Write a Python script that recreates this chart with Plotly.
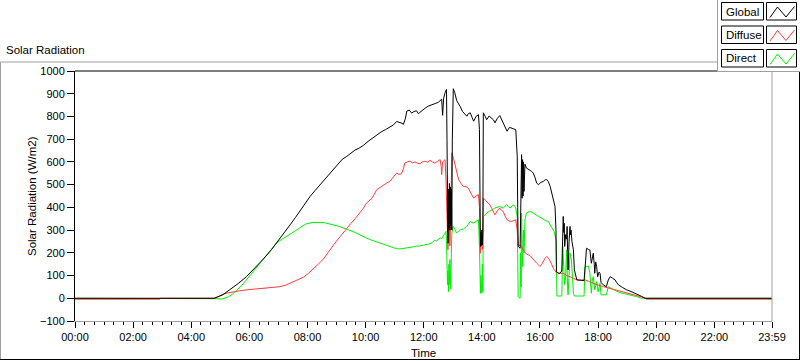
import plotly.graph_objects as go

# ---------------- data (minutes after midnight, W/m2) ----------------
global_minutes = [0,287,305,320,337,354,372,389,406,423,434,444,455,465,475,485,496,506,516,526,536,545,552,561,570,578,586,595,605,614,623,632,641,650,657,664,670,675,678,682,685,690,695,700,705,709,712,718,724,729,733,740,745,750,754,757,759,761,764,767,768,769,770,771,772,773,774,775,776,777,778,779,780,781,784,788,792,795,800,805,809,812,816,820,823,828,833,835,836,837,838,839,840,841,842,843,847,850,855,860,864,867,872,877,880,884,888,892,897,901,906,910,913,914,915,919,921,922,923,924,925,926,927,929,932,936,940,943,946,950,953,957,962,967,971,974,977,981,984,988,991,993,994,998,1001,1005,1007,1008,1009,1010,1011,1013,1015,1016,1017,1018,1020,1022,1023,1024,1026,1029,1031,1033,1036,1045,1051,1054,1056,1060,1063,1066,1068,1070,1072,1073,1075,1077,1079,1082,1084,1086,1090,1097,1101,1105,1110,1115,1118,1122,1130,1139,1150,1160,1170,1177,1439]
global_values = [0,0,15,37,65,95,133,173,215,261,292,323,355,385,418,447,475,500,526,549,575,598,612,624,640,652,660,672,690,705,721,732,742,752,762,778,775,770,765,790,823,828,815,822,825,812,818,830,838,845,849,853,858,862,868,876,805,880,904,919,700,420,243,480,310,505,300,490,320,480,300,700,880,922,905,870,855,845,822,812,801,812,816,795,779,800,808,742,300,228,290,232,300,235,300,816,800,786,802,794,785,772,792,804,790,772,752,735,752,750,745,742,625,400,228,220,420,632,440,610,450,600,470,590,573,566,562,558,551,530,507,500,510,514,522,522,514,492,463,434,404,301,117,110,110,120,250,360,290,330,228,280,260,316,200,125,250,316,280,300,250,213,125,100,81,79,78,160,220,215,213,154,190,198,150,110,160,139,95,115,110,70,60,51,80,95,88,81,70,59,48,37,28,19,8,0,0]

diffuse_minutes = [0,175,176,289,298,306,316,327,340,354,370,389,405,423,434,444,458,472,482,492,503,513,520,526,535,543,552,561,570,579,588,595,602,608,613,618,623,630,637,644,650,657,664,669,674,678,681,686,692,697,702,707,712,717,723,728,733,738,743,748,754,756,757,759,762,764,766,768,770,771,772,773,774,775,776,777,778,781,785,788,792,797,802,808,812,818,823,828,833,835,837,839,841,842,843,848,853,857,860,864,867,872,877,880,884,888,892,896,901,906,910,913,915,919,922,926,932,939,946,953,957,960,964,970,974,979,984,988,993,1000,1008,1015,1022,1030,1036,1045,1053,1060,1070,1080,1091,1100,1111,1120,1132,1143,1153,1163,1173,1178,1180,1439]
diffuse_values = [-4,-4,0,0,10,18,24,29,33,37,40,44,47,51,57,66,78,93,110,132,152,173,195,213,238,260,285,309,330,352,375,395,419,430,440,458,478,488,500,508,514,532,551,545,547,570,595,600,603,596,600,594,592,600,603,598,607,600,595,602,610,580,544,600,605,610,520,380,213,330,240,320,230,300,360,520,640,620,588,560,522,505,492,490,485,460,441,450,456,400,198,250,215,240,441,430,419,410,397,380,367,385,397,388,382,362,345,340,338,342,345,301,235,232,228,210,195,188,170,155,147,140,150,175,184,172,150,130,115,110,110,100,95,88,81,80,81,75,66,58,51,46,41,35,29,22,15,9,4,0,-4,-4]

direct_minutes = [0,286,295,303,310,317,325,334,344,354,365,375,386,396,406,416,426,437,447,458,468,478,489,499,506,516,526,535,545,553,561,570,580,590,602,611,620,628,637,644,650,657,664,671,680,690,698,705,712,720,726,733,738,742,746,750,754,757,760,764,766,767,768,769,770,771,772,773,774,775,776,777,778,781,785,788,792,795,802,809,812,816,819,823,828,833,835,836,837,838,839,840,841,842,843,846,850,855,860,864,867,872,877,880,884,888,891,895,898,902,905,908,910,913,915,919,920,921,922,924,926,927,929,932,936,939,943,946,950,953,957,962,967,972,977,981,984,989,993,995,1005,1007,1009,1011,1013,1015,1017,1018,1020,1022,1025,1028,1029,1031,1051,1053,1060,1063,1066,1068,1070,1073,1077,1080,1084,1086,1097,1101,1106,1111,1118,1125,1135,1146,1153,1160,1167,1175,1439]
direct_values = [0,0,-2,-4,0,7,18,34,56,81,110,139,166,191,218,243,258,272,287,301,316,328,333,334,334,332,328,322,316,311,306,297,288,276,265,257,250,242,235,231,228,223,218,217,219,222,226,230,230,234,236,240,246,255,252,257,265,262,272,285,294,250,150,60,120,29,150,60,170,117,40,200,287,316,295,287,296,301,305,316,326,338,333,331,338,345,233,60,22,100,30,22,150,30,360,368,375,382,390,393,397,400,404,400,397,405,412,404,397,405,412,404,397,360,7,0,200,50,375,139,300,200,345,375,380,382,379,375,367,363,360,352,345,341,338,325,313,294,257,10,10,228,139,60,100,213,50,15,100,198,169,60,22,10,10,139,142,110,22,80,95,37,73,29,66,15,15,51,44,37,31,25,20,15,11,7,1,0,0]

series_names = ["Global", "Diffuse", "Direct"]
series_colors = ["#000000", "#ff3c3c", "#00f000"]

x_tick_minutes = [0, 120, 240, 360, 480, 600, 720, 840, 960, 1080, 1200, 1320, 1439]
x_tick_labels = ["00:00", "02:00", "04:00", "06:00", "08:00", "10:00", "12:00",
                 "14:00", "16:00", "18:00", "20:00", "22:00", "23:59"]
y_tick_values = [-100, 0, 100, 200, 300, 400, 500, 600, 700, 800, 900, 1000]

chart_title = "Solar Radiation"
y_title = "Solar Radiation (W/m2)"
x_title = "Time"

# ---------------- layout geometry ----------------
W, H = 800, 361
L, R, T, B = 75, 772, 71, 321
FONT = "Liberation Sans"


def px(x):
    return (x - L) / (R - L)


def py(y):
    return (B - y) / (B - T)


fig = go.Figure()

# draw order: Direct, Diffuse, then Global on top
order = [2, 1, 0]
xs = [global_minutes, diffuse_minutes, direct_minutes]
ys = [global_values, diffuse_values, direct_values]
for i in order:
    fig.add_trace(go.Scatter(
        x=xs[i], y=ys[i], mode="lines", name=series_names[i],
        line=dict(color=series_colors[i], width=1),
        showlegend=False, hoverinfo="skip"))

shapes = []
# plot frame: top black, right gray
shapes.append(dict(type="line", xref="paper", yref="paper", x0=0, x1=1, y0=1, y1=1,
                   line=dict(color="#000000", width=1)))
shapes.append(dict(type="line", xref="paper", yref="paper", x0=1, x1=1, y0=0, y1=1,
                   line=dict(color="#a0a0a0", width=1)))
# outer panel border
shapes.append(dict(type="line", xref="paper", yref="paper", x0=px(0.5), x1=px(718), y0=py(62), y1=py(62),
                   line=dict(color="#a0a0a0", width=1)))
shapes.append(dict(type="line", xref="paper", yref="paper", x0=px(0.5), x1=px(0.5), y0=py(62), y1=py(360),
                   line=dict(color="#a0a0a0", width=1)))
shapes.append(dict(type="line", xref="paper", yref="paper", x0=px(0), x1=px(800), y0=py(359.5), y1=py(359.5),
                   line=dict(color="#000000", width=1)))
shapes.append(dict(type="line", xref="paper", yref="paper", x0=px(799.5), x1=px(799.5), y0=py(72), y1=py(360),
                   line=dict(color="#000000", width=1)))

# legend panel
shapes.append(dict(type="rect", xref="paper", yref="paper", x0=px(717), x1=px(800), y0=py(0), y1=py(72),
                   fillcolor="#ffffff", line=dict(width=0), layer="above"))
shapes.append(dict(type="line", xref="paper", yref="paper", x0=px(717.5), x1=px(717.5), y0=py(0), y1=py(72),
                   line=dict(color="#a0a0a0", width=1), layer="above"))
shapes.append(dict(type="line", xref="paper", yref="paper", x0=px(717.5), x1=px(800), y0=py(71.5), y1=py(71.5),
                   line=dict(color="#a0a0a0", width=1), layer="above"))

annotations = []
row_tops = [2.5, 26.0, 49.5]
for i, top in enumerate(row_tops):
    shapes.append(dict(type="rect", xref="paper", yref="paper",
                       x0=px(721.5), x1=px(763.5), y0=py(top), y1=py(top + 17.5),
                       fillcolor="#ffffff", line=dict(color="#000000", width=1), layer="above"))
    shapes.append(dict(type="rect", xref="paper", yref="paper",
                       x0=px(766.5), x1=px(796.5), y0=py(top), y1=py(top + 17.5),
                       fillcolor="#ffffff", line=dict(color="#000000", width=1), layer="above"))
    pts = [(770, top + 15), (777.5, top + 4.5), (786, top + 14.5), (794.5, top + 4)]
    path = "M " + " L ".join(f"{px(a):.5f},{py(b):.5f}" for a, b in pts)
    shapes.append(dict(type="path", xref="paper", yref="paper", path=path,
                       line=dict(color=series_colors[i], width=1), layer="above"))
    annotations.append(dict(text=series_names[i], xref="paper", yref="paper",
                            x=px(723.5), y=py(top + 9), xanchor="left", yanchor="middle",
                            showarrow=False, font=dict(family=FONT, size=11.5, color="#000000")))

annotations.append(dict(text=chart_title, xref="paper", yref="paper", x=px(3.5), y=py(50),
                        xanchor="left", yanchor="middle", showarrow=False,
                        font=dict(family=FONT, size=11.5, color="#000000")))
annotations.append(dict(text=y_title, xref="paper", yref="paper", x=px(32), y=py(196),
                        xanchor="center", yanchor="middle", textangle=-90, showarrow=False,
                        font=dict(family=FONT, size=11.5, color="#000000")))
annotations.append(dict(text=x_title, xref="paper", yref="paper", x=px(423.5), y=py(353),
                        xanchor="center", yanchor="middle", showarrow=False,
                        font=dict(family=FONT, size=11.5, color="#000000")))

fig.update_layout(
    width=W, height=H,
    margin=dict(l=L, r=W - R, t=T, b=H - B, pad=0),
    paper_bgcolor="#ffffff", plot_bgcolor="#ffffff",
    showlegend=False,
    shapes=shapes, annotations=annotations,
    xaxis=dict(range=[0, 1439], tickmode="array", tickvals=x_tick_minutes, ticktext=x_tick_labels,
               ticks="outside", ticklen=6, tickcolor="#000000", tickwidth=1,
               minor=dict(ticks="outside", ticklen=3, tickcolor="#000000", dtick=20, tick0=0, showgrid=False),
               showline=True, linecolor="#a0a0a0", linewidth=1, showgrid=False, zeroline=False,
               tickfont=dict(family=FONT, size=11, color="#000000")),
    yaxis=dict(range=[-100, 1000], tickmode="array", tickvals=y_tick_values,
               ticks="outside", ticklen=7, tickcolor="#000000", tickwidth=1,
               showline=True, linecolor="#000000", linewidth=1, showgrid=False, zeroline=False,
               tickfont=dict(family=FONT, size=11, color="#000000")),
)

fig.write_html("out.html", config={"displayModeBar": False, "staticPlot": True},
               post_script="document.body.style.margin='0px';document.body.style.overflow='hidden';")
